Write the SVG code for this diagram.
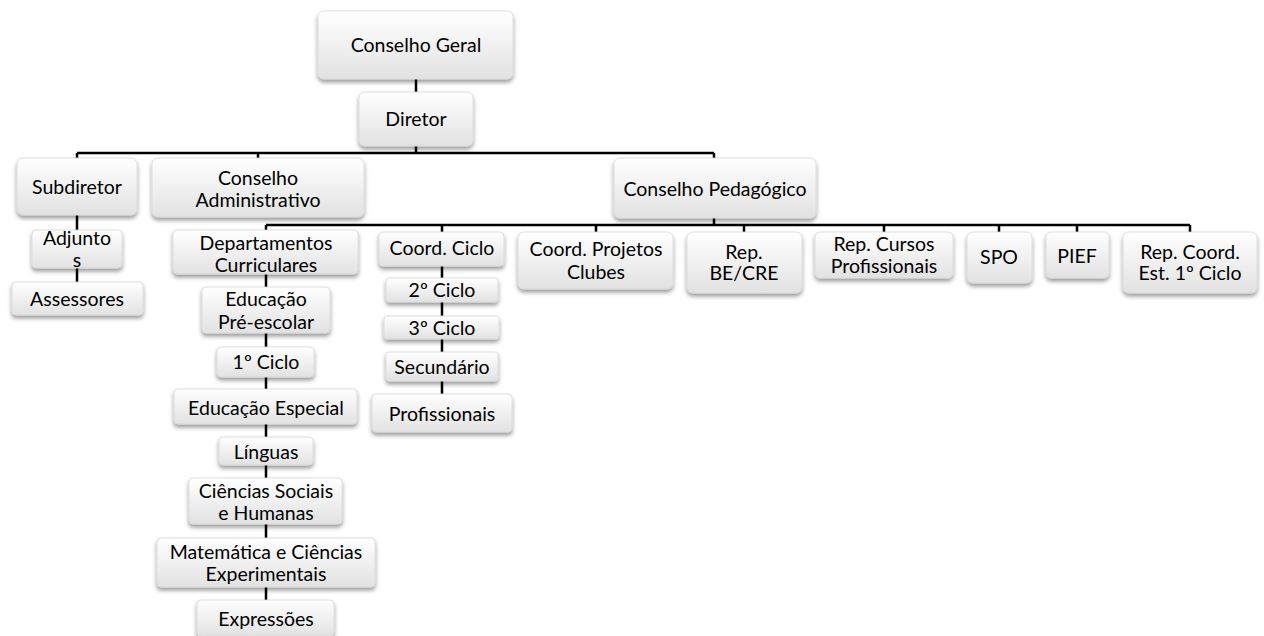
<svg xmlns="http://www.w3.org/2000/svg" width="1264" height="636" viewBox="0 0 1264 636">
<defs>
<linearGradient id="g" x1="0" y1="0" x2="0" y2="1">
<stop offset="0" stop-color="#ffffff"/>
<stop offset="1" stop-color="#e2e2e2"/>
</linearGradient>
<filter id="sh" x="-10%" y="-20%" width="120%" height="150%">
<feDropShadow dx="0" dy="3" stdDeviation="2" flood-color="#000" flood-opacity="0.4"/>
</filter>
</defs>
<style>
.b{fill:url(#g);stroke:#d8d8d8;stroke-width:0.8;filter:url(#sh)}
text{font-family:Lato,"Liberation Sans",sans-serif;font-size:19.5px;fill:#000;text-anchor:middle}
.c{stroke:#000;stroke-width:2.5;fill:none}
</style>
<rect width="1264" height="636" fill="#fff"/>
<g id="connectors">
<path class="c" d="M416 79V92M416 146V153M77 153H714M77 153V158M258 153V158M714 153V158"/>
<path class="c" d="M714 218V225M266 225H1190M266 225V230M442 225V232M596 225V232M744 225V232M884 225V232M999 225V232M1077 225V232M1190 225V232"/>
<path class="c" d="M77 215V282M266 274V600M442 266V394"/>
</g>
<g id="conselho-geral"><rect class="b" x="318" y="11" width="195" height="68" rx="6"/><text x="416" y="52">Conselho Geral</text></g>
<g id="diretor"><rect class="b" x="359" y="92" width="114" height="54" rx="6"/><text x="416" y="126">Diretor</text></g>
<g id="subdiretor"><rect class="b" x="17" y="158" width="120" height="57" rx="6"/><text x="77" y="194">Subdiretor</text></g>
<g id="conselho-administrativo"><rect class="b" x="152" y="158" width="212" height="59" rx="6"/><text x="258" y="185">Conselho</text><text x="258" y="207">Administrativo</text></g>
<g id="conselho-pedagogico"><rect class="b" x="614" y="158" width="202" height="60" rx="6"/><text x="715" y="196">Conselho Pedagógico</text></g>
<g id="adjuntos"><rect class="b" x="32" y="230" width="90" height="38" rx="4"/><text x="77" y="245">Adjunto</text><text x="77" y="267">s</text></g>
<g id="assessores"><rect class="b" x="12" y="282" width="131" height="33" rx="4"/><text x="77" y="306">Assessores</text></g>
<g id="departamentos"><rect class="b" x="173" y="230" width="185" height="44" rx="4"/><text x="266" y="250">Departamentos</text><text x="266" y="272">Curriculares</text></g>
<g id="pre-escolar"><rect class="b" x="202" y="287" width="128" height="46" rx="4"/><text x="266" y="306">Educação</text><text x="266" y="329">Pré-escolar</text></g>
<g id="primeiro-ciclo"><rect class="b" x="217" y="347" width="97" height="30" rx="4"/><text x="266" y="369">1º Ciclo</text></g>
<g id="educacao-especial"><rect class="b" x="174" y="389" width="183" height="35" rx="4"/><text x="266" y="415">Educação Especial</text></g>
<g id="linguas"><rect class="b" x="219" y="437" width="94" height="28" rx="4"/><text x="266" y="459">Línguas</text></g>
<g id="ciencias-sociais"><rect class="b" x="189" y="478" width="153" height="46" rx="4"/><text x="266" y="498">Ciências Sociais</text><text x="266" y="520">e Humanas</text></g>
<g id="matematica"><rect class="b" x="157" y="538" width="218" height="49" rx="4"/><text x="266" y="559">Matemática e Ciências</text><text x="266" y="581">Experimentais</text></g>
<g id="expressoes"><rect class="b" x="197" y="600" width="137" height="36" rx="4"/><text x="266" y="626">Expressões</text></g>
<g id="coord-ciclo"><rect class="b" x="379" y="232" width="125" height="34" rx="4"/><text x="442" y="255">Coord. Ciclo</text></g>
<g id="segundo-ciclo"><rect class="b" x="386" y="278" width="112" height="24" rx="3"/><text x="442" y="297">2º Ciclo</text></g>
<g id="terceiro-ciclo"><rect class="b" x="384" y="316" width="115" height="23" rx="3"/><text x="442" y="335">3º Ciclo</text></g>
<g id="secundario"><rect class="b" x="386" y="352" width="112" height="29" rx="3"/><text x="442" y="374">Secundário</text></g>
<g id="profissionais"><rect class="b" x="372" y="394" width="140" height="38" rx="4"/><text x="442" y="421">Profissionais</text></g>
<g id="coord-projetos"><rect class="b" x="518" y="232" width="155" height="57" rx="6"/><text x="596" y="256">Coord. Projetos</text><text x="596" y="279">Clubes</text></g>
<g id="rep-be-cre"><rect class="b" x="687" y="232" width="115" height="61" rx="6"/><text x="744" y="259">Rep.</text><text x="744" y="280">BE/CRE</text></g>
<g id="rep-cursos"><rect class="b" x="815" y="232" width="138" height="46" rx="5"/><text x="884" y="251">Rep. Cursos</text><text x="884" y="273">Profissionais</text></g>
<g id="spo"><rect class="b" x="967" y="232" width="65" height="51" rx="6"/><text x="999" y="264">SPO</text></g>
<g id="pief"><rect class="b" x="1046" y="232" width="63" height="46" rx="5"/><text x="1077" y="263">PIEF</text></g>
<g id="rep-coord"><rect class="b" x="1123" y="232" width="134" height="61" rx="6"/><text x="1190" y="259">Rep. Coord.</text><text x="1190" y="280">Est. 1º Ciclo</text></g>
</svg>
